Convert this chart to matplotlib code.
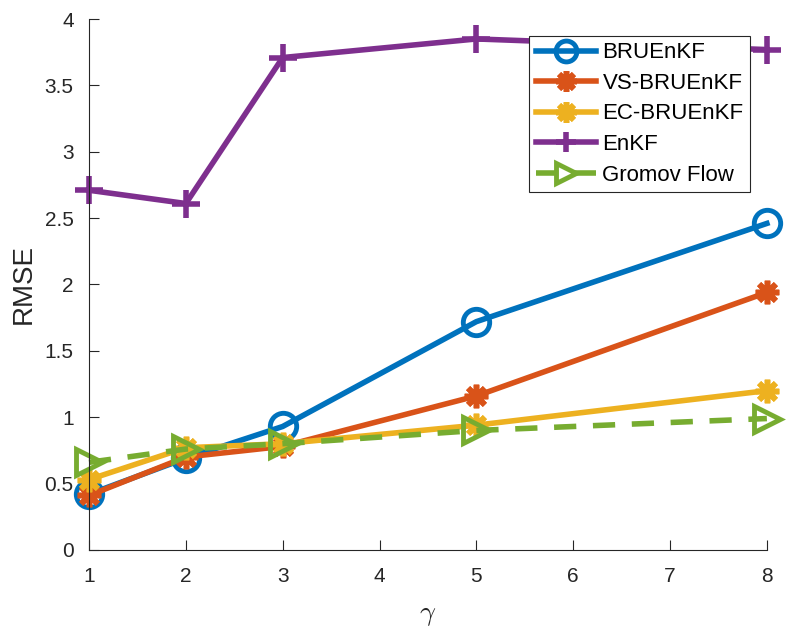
import numpy as np
import matplotlib
matplotlib.use("Agg")
import matplotlib.pyplot as plt

plt.rcParams['font.family'] = ['Liberation Sans', 'DejaVu Sans']
plt.rcParams['mathtext.fontset'] = 'cm'

# RMSE versus gamma for each filter
gamma = [1, 2, 3, 5, 8]
rmse_bruenkf = [0.42, 0.69, 0.93, 1.72, 2.46]
rmse_vs_bruenkf = [0.41, 0.70, 0.78, 1.16, 1.94]
rmse_ec_bruenkf = [0.53, 0.77, 0.80, 0.94, 1.20]
rmse_enkf = [2.71, 2.61, 3.71, 3.85, 3.77]
rmse_gromov = [0.66, 0.76, 0.80, 0.90, 0.99]

asterisk = (8, 2, 0)

fig = plt.figure(figsize=(7.91, 6.35), dpi=100)
ax = fig.add_axes([0.1125, 0.134, 0.857, 0.836])

ax.plot(gamma, rmse_bruenkf, color='#0072BD', lw=4, marker='o', ms=19,
        mfc='none', mew=3.5, label='BRUEnKF', clip_on=False)
ax.plot(gamma, rmse_vs_bruenkf, color='#D95319', lw=4, marker=asterisk, ms=17,
        mew=4, label='VS-BRUEnKF', clip_on=False)
ax.plot(gamma, rmse_ec_bruenkf, color='#EDB120', lw=4, marker=asterisk, ms=17,
        mew=4, label='EC-BRUEnKF', clip_on=False)
ax.plot(gamma, rmse_enkf, color='#7E2F8E', lw=4, marker='+', ms=20,
        mew=4, label='EnKF', clip_on=False)
ax.plot(gamma, rmse_gromov, color='#77AC30', lw=4, ls=(0, (4, 3)), marker='>',
        ms=19, mfc='none', mew=3.5, label='Gromov Flow', clip_on=False)

ax.set_xlim(1, 8)
ax.set_ylim(0, 4)
ax.set_xticks(range(1, 9))
ax.set_yticks(np.arange(0, 4.01, 0.5))
ax.set_yticklabels(['0', '0.5', '1', '1.5', '2', '2.5', '3', '3.5', '4'])

for side in ['top', 'right']:
    ax.spines[side].set_visible(False)
for side in ['left', 'bottom']:
    ax.spines[side].set_color('#262626')
    ax.spines[side].set_linewidth(0.8)
ax.tick_params(direction='in', length=7, width=0.8, colors='#262626',
               labelsize=15)
ax.tick_params(axis='x', pad=12)
ax.tick_params(axis='y', pad=11)
for lbl in ax.get_xticklabels() + ax.get_yticklabels():
    lbl.set_color('#262626')

ax.set_xlabel(r'$\gamma$', fontsize=20, color='#262626', labelpad=12)
ax.set_ylabel('RMSE', fontsize=20, color='#262626', labelpad=6)

leg = ax.legend(loc='upper right', fontsize=16, frameon=True, framealpha=1,
                fancybox=False, edgecolor='#262626',
                handlelength=2.7, handletextpad=0.3, borderpad=0.3,
                labelspacing=0.43, borderaxespad=0.75)
leg.get_frame().set_linewidth(0.8)
for h in leg.legend_handles:
    h.set_markersize(15)

fig.savefig('out.png', dpi=100)
